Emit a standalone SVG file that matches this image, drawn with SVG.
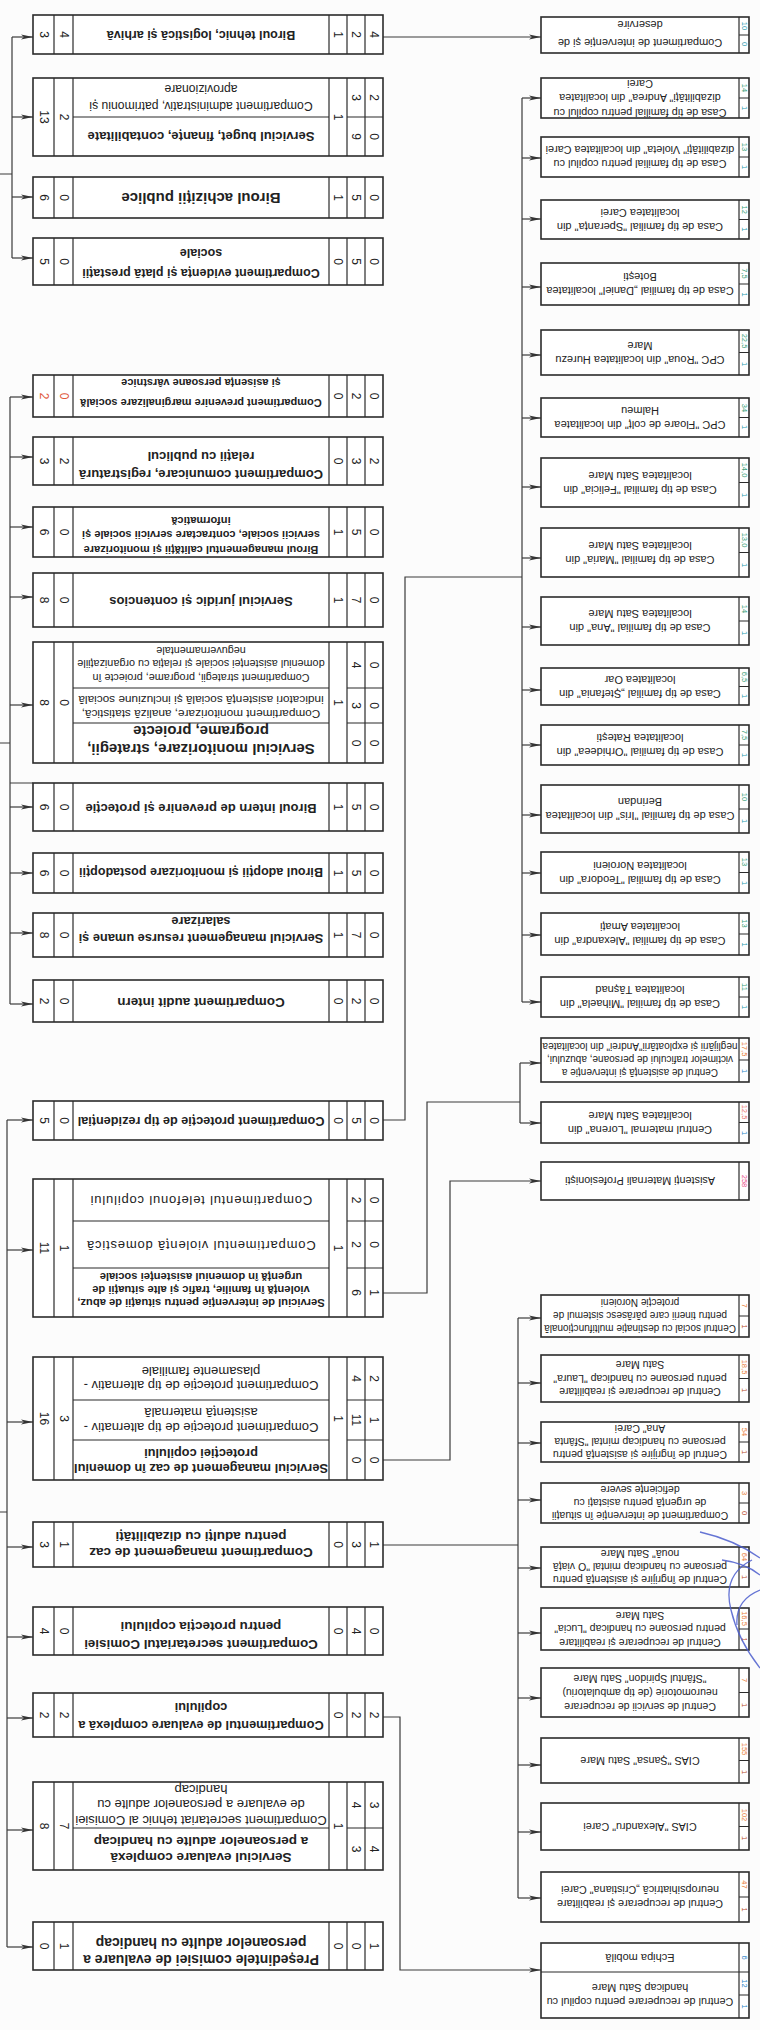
<svg xmlns="http://www.w3.org/2000/svg" width="760" height="2030" viewBox="0 0 760 2030">
<defs>
<style>
.bx{fill:#fff;stroke:#2b2b2b;stroke-width:1.6}
.ln{fill:none;stroke:#2b2b2b;stroke-width:1.2}
.cn{fill:none;stroke:#3a3a3a;stroke-width:1.2}
.ar{fill:none;stroke:#3a3a3a;stroke-width:1.2;marker-end:url(#ah)}
.sc{fill:none;stroke:#4a5ccc;stroke-width:1.3;opacity:.85}
text,tspan{font-family:"Liberation Sans",Arial,sans-serif;text-anchor:middle;dominant-baseline:central}
text{fill:#222}
.b{font-weight:bold}
.n{font-size:12px}
.m{font-size:7.5px}
.blu{fill:#2c86c8}
.tea{fill:#2a9bb0}
.grn{fill:#3a9f7a}
.org{fill:#e8803a}
.sal{fill:#e8746a}
.brn{fill:#b84a2a}
.pnk{fill:#e8508a}
.red{fill:#e0583a}
</style>
<marker id="ah" viewBox="0 0 12 6" refX="12" refY="3" markerWidth="12" markerHeight="6" markerUnits="userSpaceOnUse" orient="auto"><path d="M0 0.6L12 3L0 5.4L3 3z" fill="#333"/></marker>
</defs>
<rect width="760" height="2030" fill="#fcfcfc"/>

<g id="connectors">
<path class="cn" d="M0 174H12M12 37V258"/>
<path class="ar" d="M12 37H33"/><path class="ar" d="M12 117H33"/><path class="ar" d="M12 197H33"/><path class="ar" d="M12 258H33"/>
<path class="cn" d="M0 743H10M10 397V1004M10 783H33"/>
<path class="ar" d="M10 397H33"/><path class="ar" d="M10 457H33"/><path class="ar" d="M10 527H33"/><path class="ar" d="M10 597H33"/><path class="ar" d="M10 705H33"/><path class="ar" d="M10 807H33"/><path class="ar" d="M10 873H33"/><path class="ar" d="M10 933H33"/><path class="ar" d="M10 1004H33"/>
<path class="cn" d="M0 1512H7M7 1120V1947"/>
<path class="ar" d="M7 1120H33"/><path class="ar" d="M7 1250H33"/><path class="ar" d="M7 1422H33"/><path class="ar" d="M7 1547H33"/><path class="ar" d="M7 1637H33"/><path class="ar" d="M7 1718H33"/><path class="ar" d="M7 1830H33"/><path class="ar" d="M7 1947H33"/>
<path class="ar" d="M383 37H541"/>
<path class="cn" d="M383 1120H405V577H522M522 98V1002"/>
<path class="ar" d="M522 98H541"/><path class="ar" d="M522 158H541"/><path class="ar" d="M522 219H541"/><path class="ar" d="M522 287H541"/><path class="ar" d="M522 355H541"/><path class="ar" d="M522 418H541"/><path class="ar" d="M522 487H541"/><path class="ar" d="M522 558H541"/><path class="ar" d="M522 627H541"/><path class="ar" d="M522 690H541"/><path class="ar" d="M522 745H541"/><path class="ar" d="M522 815H541"/><path class="ar" d="M522 873H541"/><path class="ar" d="M522 935H541"/><path class="ar" d="M522 1002H541"/>
<path class="cn" d="M383 1293H427V1102H520M520 1063V1123"/>
<path class="ar" d="M520 1063H541"/><path class="ar" d="M520 1123H541"/>
<path class="ar" d="M383 1460H450V1181H541"/>
<path class="cn" d="M383 1545H518M518 1318V1898"/>
<path class="ar" d="M518 1318H541"/><path class="ar" d="M518 1383H541"/><path class="ar" d="M518 1443H541"/><path class="ar" d="M518 1500H541"/><path class="ar" d="M518 1568H541"/><path class="ar" d="M518 1633H541"/><path class="ar" d="M518 1698H541"/><path class="ar" d="M518 1765H541"/><path class="ar" d="M518 1832H541"/><path class="ar" d="M518 1898H541"/>
<path class="ar" d="M383 1717H400V1970H541"/>
</g>

<!-- Left column -->
<g id="biroul-tehnic">
<rect class="bx" x="33" y="15" width="350" height="39"/>
<path class="ln" d="M54 15V54M73 15V54M329 15V54M347 15V54M365 15V54"/>
<text class="n" transform="translate(43.5 34.5) rotate(90)">3</text>
<text class="n" transform="translate(63.5 34.5) rotate(90)">4</text>
<text class="b" font-size="12.5" transform="translate(201 34.5) rotate(180)">Biroul tehnic, logistică și arhivă</text>
<text class="n" transform="translate(338 34.5) rotate(90)">1</text>
<text class="n" transform="translate(356 34.5) rotate(90)">2</text>
<text class="n" transform="translate(374 34.5) rotate(90)">4</text>
</g>
<g id="serviciul-buget">
<rect class="bx" x="33" y="78" width="350" height="78"/>
<path class="ln" d="M54 78V156M73 78V156M329 78V156M347 78V156M365 78V156M73 117H329M347 117H383"/>
<text class="n" transform="translate(43.5 117) rotate(90)">13</text>
<text class="n" transform="translate(63.5 117) rotate(90)">2</text>
<text font-size="12.2" transform="translate(201 97) rotate(180)"><tspan x="0" y="-8.5">Compartiment  administrativ, patrimoniu și</tspan><tspan x="0" y="8.5">aprovizionare</tspan></text>
<text class="b" font-size="13" transform="translate(201 136.5) rotate(180)">Serviciul buget, finanțe, contabilitate</text>
<text class="n" transform="translate(338 117) rotate(90)">1</text>
<text class="n" transform="translate(356 97.5) rotate(90)">3</text>
<text class="n" transform="translate(374 97.5) rotate(90)">2</text>
<text class="n" transform="translate(356 136.5) rotate(90)">9</text>
<text class="n" transform="translate(374 136.5) rotate(90)">0</text>
</g>
<g id="biroul-achizitii">
<rect class="bx" x="33" y="177" width="350" height="41"/>
<path class="ln" d="M54 177V218M73 177V218M329 177V218M347 177V218M365 177V218"/>
<text class="n" transform="translate(43.5 197.5) rotate(90)">6</text>
<text class="n" transform="translate(63.5 197.5) rotate(90)">0</text>
<text class="b" font-size="15" transform="translate(201 198) rotate(180)">Biroul achiziții publice</text>
<text class="n" transform="translate(338 197.5) rotate(90)">1</text>
<text class="n" transform="translate(356 197.5) rotate(90)">5</text>
<text class="n" transform="translate(374 197.5) rotate(90)">0</text>
</g>
<g id="compartiment-evidenta">
<rect class="bx" x="33" y="238" width="350" height="47"/>
<path class="ln" d="M54 238V285M73 238V285M329 238V285M347 238V285M365 238V285"/>
<text class="n" transform="translate(43.5 261.5) rotate(90)">5</text>
<text class="n" transform="translate(63.5 261.5) rotate(90)">0</text>
<text class="b" font-size="12.5" transform="translate(201 263) rotate(180)"><tspan x="0" y="-10">Compartiment evidența  și plată prestații</tspan><tspan x="0" y="10">sociale</tspan></text>
<text class="n" transform="translate(338 261.5) rotate(90)">0</text>
<text class="n" transform="translate(356 261.5) rotate(90)">5</text>
<text class="n" transform="translate(374 261.5) rotate(90)">0</text>
</g>

<g id="compartiment-prevenire">
<rect class="bx" x="33" y="375" width="350" height="42"/>
<path class="ln" d="M54 375V417M73 375V417M329 375V417M347 375V417M365 375V417"/>
<text class="n red" transform="translate(43.5 396) rotate(90)">2</text>
<text class="n red" transform="translate(63.5 396) rotate(90)">0</text>
<text class="b" font-size="11" transform="translate(201 393) rotate(180)"><tspan x="0" y="-10">Compartiment prevenire marginalizare socială</tspan><tspan x="0" y="10">și asisența persoane vârstnice</tspan></text>
<text class="n" transform="translate(338 396) rotate(90)">0</text>
<text class="n" transform="translate(356 396) rotate(90)">2</text>
<text class="n" transform="translate(374 396) rotate(90)">0</text>
</g>
<g id="compartiment-comunicare">
<rect class="bx" x="33" y="437" width="350" height="48"/>
<path class="ln" d="M54 437V485M73 437V485M329 437V485M347 437V485M365 437V485"/>
<text class="n" transform="translate(43.5 461) rotate(90)">3</text>
<text class="n" transform="translate(63.5 461) rotate(90)">2</text>
<text class="b" font-size="13" transform="translate(201 466) rotate(180)"><tspan x="0" y="-9">Compartiment comunicare, registratură</tspan><tspan x="0" y="9">relații cu publicul</tspan></text>
<text class="n" transform="translate(338 461) rotate(90)">0</text>
<text class="n" transform="translate(356 461) rotate(90)">3</text>
<text class="n" transform="translate(374 461) rotate(90)">2</text>
</g>
<g id="biroul-calitate">
<rect class="bx" x="33" y="507" width="350" height="50"/>
<path class="ln" d="M54 507V557M73 507V557M329 507V557M347 507V557M365 507V557"/>
<text class="n" transform="translate(43.5 532) rotate(90)">6</text>
<text class="n" transform="translate(63.5 532) rotate(90)">0</text>
<text class="b" font-size="11" transform="translate(201 535) rotate(180)"><tspan x="0" y="-14.5">Biroul managementul calității și monitorizare</tspan><tspan x="0" y="0">servicii sociale, contractare servicii sociale și</tspan><tspan x="0" y="14.5">informatică</tspan></text>
<text class="n" transform="translate(338 532) rotate(90)">1</text>
<text class="n" transform="translate(356 532) rotate(90)">5</text>
<text class="n" transform="translate(374 532) rotate(90)">0</text>
</g>
<g id="serviciul-juridic">
<rect class="bx" x="33" y="573" width="350" height="54"/>
<path class="ln" d="M54 573V627M73 573V627M329 573V627M347 573V627M365 573V627"/>
<text class="n" transform="translate(43.5 600) rotate(90)">8</text>
<text class="n" transform="translate(63.5 600) rotate(90)">0</text>
<text class="b" font-size="13" transform="translate(201 601) rotate(180)">Serviciul juridic și contencios</text>
<text class="n" transform="translate(338 600) rotate(90)">1</text>
<text class="n" transform="translate(356 600) rotate(90)">7</text>
<text class="n" transform="translate(374 600) rotate(90)">0</text>
</g>
<g id="serviciul-monitorizare">
<rect class="bx" x="33" y="642" width="350" height="121"/>
<path class="ln" d="M54 642V763M73 642V763M329 642V763M347 642V763M365 642V763M73 688H329M347 688H383M73 723H329M347 723H383"/>
<text class="n" transform="translate(43.5 702.5) rotate(90)">8</text>
<text class="n" transform="translate(63.5 702.5) rotate(90)">0</text>
<text font-size="10.8" transform="translate(201 664) rotate(180)"><tspan x="0" y="-13.5">Compartiment strategii, programe, proiecte în</tspan><tspan x="0" y="0">domeniul asistenței sociale și relația cu organizațiile</tspan><tspan x="0" y="13.5">neguvernamentale</tspan></text>
<text font-size="11.8" transform="translate(201 706.5) rotate(180)"><tspan x="0" y="-7">Compartiment monitorizare, analiză statistică,</tspan><tspan x="0" y="7">indicatori asistență socială și incluziune socială</tspan></text>
<text class="b" font-size="15" transform="translate(201 741) rotate(180)"><tspan x="0" y="-9">Serviciul monitorizare, strategii,</tspan><tspan x="0" y="9">programe, proiecte</tspan></text>
<text class="n" transform="translate(338 702.5) rotate(90)">1</text>
<text class="n" transform="translate(356 665) rotate(90)">4</text>
<text class="n" transform="translate(374 665) rotate(90)">0</text>
<text class="n" transform="translate(356 705.5) rotate(90)">3</text>
<text class="n" transform="translate(374 705.5) rotate(90)">0</text>
<text class="n" transform="translate(356 743) rotate(90)">0</text>
<text class="n" transform="translate(374 743) rotate(90)">0</text>
</g>
<g id="biroul-intern">
<rect class="bx" x="33" y="783" width="350" height="48"/>
<path class="ln" d="M54 783V831M73 783V831M329 783V831M347 783V831M365 783V831"/>
<text class="n" transform="translate(43.5 807) rotate(90)">6</text>
<text class="n" transform="translate(63.5 807) rotate(90)">0</text>
<text class="b" font-size="13" transform="translate(201 808) rotate(180)">Biroul intern de prevenire și protecție</text>
<text class="n" transform="translate(338 807) rotate(90)">1</text>
<text class="n" transform="translate(356 807) rotate(90)">5</text>
<text class="n" transform="translate(374 807) rotate(90)">0</text>
</g>
<g id="biroul-adoptii">
<rect class="bx" x="33" y="853" width="350" height="40"/>
<path class="ln" d="M54 853V893M73 853V893M329 853V893M347 853V893M365 853V893"/>
<text class="n" transform="translate(43.5 873) rotate(90)">6</text>
<text class="n" transform="translate(63.5 873) rotate(90)">0</text>
<text class="b" font-size="12.5" transform="translate(201 872) rotate(180)">Biroul adopții și monitorizare postadopții</text>
<text class="n" transform="translate(338 873) rotate(90)">1</text>
<text class="n" transform="translate(356 873) rotate(90)">5</text>
<text class="n" transform="translate(374 873) rotate(90)">0</text>
</g>
<g id="serviciul-resurse-umane">
<rect class="bx" x="33" y="913" width="350" height="44"/>
<path class="ln" d="M54 913V957M73 913V957M329 913V957M347 913V957M365 913V957"/>
<text class="n" transform="translate(43.5 935) rotate(90)">8</text>
<text class="n" transform="translate(63.5 935) rotate(90)">0</text>
<text class="b" font-size="12.8" transform="translate(201 930.5) rotate(180)"><tspan x="0" y="-8.8">Serviciul management resurse umane și</tspan><tspan x="0" y="8.8">salarizare</tspan></text>
<text class="n" transform="translate(338 935) rotate(90)">1</text>
<text class="n" transform="translate(356 935) rotate(90)">7</text>
<text class="n" transform="translate(374 935) rotate(90)">0</text>
</g>
<g id="compartiment-audit">
<rect class="bx" x="33" y="980" width="350" height="42"/>
<path class="ln" d="M54 980V1022M73 980V1022M329 980V1022M347 980V1022M365 980V1022"/>
<text class="n" transform="translate(43.5 1001) rotate(90)">2</text>
<text class="n" transform="translate(63.5 1001) rotate(90)">0</text>
<text class="b" font-size="13.4" transform="translate(201 1002) rotate(180)">Compartiment audit intern</text>
<text class="n" transform="translate(338 1001) rotate(90)">0</text>
<text class="n" transform="translate(356 1001) rotate(90)">2</text>
<text class="n" transform="translate(374 1001) rotate(90)">0</text>
</g>

<g id="compartiment-rezidential">
<rect class="bx" x="33" y="1101" width="350" height="39"/>
<path class="ln" d="M54 1101V1140M73 1101V1140M329 1101V1140M347 1101V1140M365 1101V1140"/>
<text class="n" transform="translate(43.5 1120.5) rotate(90)">5</text>
<text class="n" transform="translate(63.5 1120.5) rotate(90)">0</text>
<text class="b" font-size="12.7" transform="translate(201 1120.5) rotate(180)">Compartiment protecție de tip rezidențial</text>
<text class="n" transform="translate(338 1120.5) rotate(90)">0</text>
<text class="n" transform="translate(356 1120.5) rotate(90)">5</text>
<text class="n" transform="translate(374 1120.5) rotate(90)">0</text>
</g>
<g id="serviciul-interventie">
<rect class="bx" x="33" y="1179" width="350" height="138"/>
<path class="ln" d="M54 1179V1317M73 1179V1317M329 1179V1317M347 1179V1317M365 1179V1317M73 1221H329M347 1221H383M73 1268H329M347 1268H383"/>
<text class="n" transform="translate(43.5 1248) rotate(90)">11</text>
<text class="n" transform="translate(63.5 1248) rotate(90)">1</text>
<text font-size="13" letter-spacing="0.8" transform="translate(201 1200) rotate(180)">Compartimentul telefonul copilului</text>
<text font-size="13" letter-spacing="0.8" transform="translate(201 1245) rotate(180)">Compartimentul violență domestică</text>
<text class="b" font-size="11.2" transform="translate(201 1290) rotate(180)"><tspan x="0" y="-13.3">Serviciul de intervenție pentru situații de abuz,</tspan><tspan x="0" y="0">violență în familie, trafic și alte situații de</tspan><tspan x="0" y="13.3">urgență în domeniul asistenței sociale</tspan></text>
<text class="n" transform="translate(338 1248) rotate(90)">1</text>
<text class="n" transform="translate(356 1200) rotate(90)">2</text>
<text class="n" transform="translate(374 1200) rotate(90)">0</text>
<text class="n" transform="translate(356 1244.5) rotate(90)">2</text>
<text class="n" transform="translate(374 1244.5) rotate(90)">0</text>
<text class="n" transform="translate(356 1292.5) rotate(90)">6</text>
<text class="n" transform="translate(374 1292.5) rotate(90)">1</text>
</g>
<g id="serviciul-management-caz">
<rect class="bx" x="33" y="1357" width="350" height="123"/>
<path class="ln" d="M54 1357V1480M73 1357V1480M329 1357V1480M347 1357V1480M365 1357V1480M73 1400H329M347 1400H383M73 1440H329M347 1440H383"/>
<text class="n" transform="translate(43.5 1418.5) rotate(90)">16</text>
<text class="n" transform="translate(63.5 1418.5) rotate(90)">3</text>
<text font-size="13" transform="translate(201 1378.5) rotate(180)"><tspan x="0" y="-7">Compartiment protecție de tip alternativ -</tspan><tspan x="0" y="7">plasamente familiale</tspan></text>
<text font-size="13" transform="translate(201 1420.5) rotate(180)"><tspan x="0" y="-7.5">Compartiment protecție de tip alternativ -</tspan><tspan x="0" y="7.5">asistență maternală</tspan></text>
<text class="b" font-size="12.8" transform="translate(201 1461) rotate(180)"><tspan x="0" y="-7.5">Serviciul management de caz în domeniul</tspan><tspan x="0" y="7.5">protecției copilului</tspan></text>
<text class="n" transform="translate(338 1418.5) rotate(90)">1</text>
<text class="n" transform="translate(356 1378.5) rotate(90)">4</text>
<text class="n" transform="translate(374 1378.5) rotate(90)">2</text>
<text class="n" transform="translate(356 1420) rotate(90)">11</text>
<text class="n" transform="translate(374 1420) rotate(90)">1</text>
<text class="n" transform="translate(356 1460) rotate(90)">0</text>
<text class="n" transform="translate(374 1460) rotate(90)">0</text>
</g>
<g id="compartiment-management-caz-adulti">
<rect class="bx" x="33" y="1522" width="350" height="45"/>
<path class="ln" d="M54 1522V1567M73 1522V1567M329 1522V1567M347 1522V1567M365 1522V1567"/>
<text class="n" transform="translate(43.5 1544.5) rotate(90)">3</text>
<text class="n" transform="translate(63.5 1544.5) rotate(90)">1</text>
<text class="b" font-size="13.5" transform="translate(201 1545) rotate(180)"><tspan x="0" y="-8.3">Compartiment management de caz</tspan><tspan x="0" y="8.3">pentru adulți cu dizabilități</tspan></text>
<text class="n" transform="translate(338 1544.5) rotate(90)">0</text>
<text class="n" transform="translate(356 1544.5) rotate(90)">3</text>
<text class="n" transform="translate(374 1544.5) rotate(90)">1</text>
</g>
<g id="compartiment-secretariat-comisie">
<rect class="bx" x="33" y="1607" width="350" height="48"/>
<path class="ln" d="M54 1607V1655M73 1607V1655M329 1607V1655M347 1607V1655M365 1607V1655"/>
<text class="n" transform="translate(43.5 1631) rotate(90)">4</text>
<text class="n" transform="translate(63.5 1631) rotate(90)">0</text>
<text class="b" font-size="13.4" transform="translate(201 1636) rotate(180)"><tspan x="0" y="-9">Compartiment  secretariatul Comisiei</tspan><tspan x="0" y="9">pentru protecția copilului</tspan></text>
<text class="n" transform="translate(338 1631) rotate(90)">0</text>
<text class="n" transform="translate(356 1631) rotate(90)">4</text>
<text class="n" transform="translate(374 1631) rotate(90)">0</text>
</g>
<g id="compartiment-evaluare-copil">
<rect class="bx" x="33" y="1693" width="350" height="44"/>
<path class="ln" d="M54 1693V1737M73 1693V1737M329 1693V1737M347 1693V1737M365 1693V1737"/>
<text class="n" transform="translate(43.5 1715) rotate(90)">2</text>
<text class="n" transform="translate(63.5 1715) rotate(90)">2</text>
<text class="b" font-size="12.8" transform="translate(201 1717) rotate(180)"><tspan x="0" y="-9.3">Compartimentul  de evaluare complexă a</tspan><tspan x="0" y="9.3">copilului</tspan></text>
<text class="n" transform="translate(338 1715) rotate(90)">0</text>
<text class="n" transform="translate(356 1715) rotate(90)">2</text>
<text class="n" transform="translate(374 1715) rotate(90)">2</text>
</g>
<g id="serviciul-evaluare-adulti">
<rect class="bx" x="33" y="1782" width="350" height="88"/>
<path class="ln" d="M54 1782V1870M73 1782V1870M329 1782V1870M347 1782V1870M365 1782V1870M73 1828H329M347 1828H383"/>
<text class="n" transform="translate(43.5 1826) rotate(90)">8</text>
<text class="n" transform="translate(63.5 1826) rotate(90)">7</text>
<text font-size="13" transform="translate(201 1805) rotate(180)"><tspan x="0" y="-15.5">Compartiment secretariat tehnic al Comisiei</tspan><tspan x="0" y="0">de evaluare a persoanelor adulte cu</tspan><tspan x="0" y="15.5">handicap</tspan></text>
<text class="b" font-size="13.5" transform="translate(201 1850) rotate(180)"><tspan x="0" y="-8.3">Serviciul evaluare complexă</tspan><tspan x="0" y="8.3">a persoanelor adulte cu handicap</tspan></text>
<text class="n" transform="translate(338 1826) rotate(90)">1</text>
<text class="n" transform="translate(356 1805) rotate(90)">4</text>
<text class="n" transform="translate(374 1805) rotate(90)">3</text>
<text class="n" transform="translate(356 1849) rotate(90)">3</text>
<text class="n" transform="translate(374 1849) rotate(90)">4</text>
</g>
<g id="presedintele-comisiei">
<rect class="bx" x="33" y="1922" width="350" height="48"/>
<path class="ln" d="M54 1922V1970M73 1922V1970M329 1922V1970M347 1922V1970M365 1922V1970"/>
<text class="n" transform="translate(43.5 1946) rotate(90)">0</text>
<text class="n" transform="translate(63.5 1946) rotate(90)">1</text>
<text class="b" font-size="14" transform="translate(201 1951.5) rotate(180)"><tspan x="0" y="-8.3">Președintele comisiei de evaluare a</tspan><tspan x="0" y="8.3">persoanelor adulte cu handicap</tspan></text>
<text class="n" transform="translate(338 1946) rotate(90)">0</text>
<text class="n" transform="translate(356 1946) rotate(90)">0</text>
<text class="n" transform="translate(374 1946) rotate(90)">1</text>
</g>

<!-- Right column -->
<g id="compartiment-deservire">
<rect class="bx" x="541" y="17" width="208" height="36"/>
<path class="ln" d="M739 17V53M739 35H749"/>
<text class="m tea" transform="translate(744 26) rotate(90)">10</text>
<text class="m tea" transform="translate(744 44) rotate(90)">0</text>
<text font-size="11" transform="translate(640 34) rotate(180)"><tspan x="0" y="-9">Compartiment de intervenție și de</tspan><tspan x="0" y="9">deservire</tspan></text>
</g>
<g id="casa-andrea">
<rect class="bx" x="541" y="78" width="208" height="40"/>
<path class="ln" d="M739 78V118M739 98H749"/>
<text class="m grn" transform="translate(744 88) rotate(90)">14</text>
<text class="m tea" transform="translate(744 108) rotate(90)">1</text>
<text font-size="10.8" transform="translate(640 98) rotate(180)"><tspan x="0" y="-14.5">Casa de tip familial  pentru copilul cu</tspan><tspan x="0" y="0">dizabilități" Andrea" din localitatea</tspan><tspan x="0" y="14.5">Carei</tspan></text>
</g>
<g id="casa-violeta">
<rect class="bx" x="541" y="137" width="208" height="40"/>
<path class="ln" d="M739 137V177M739 157H749"/>
<text class="m grn" transform="translate(744 147) rotate(90)">13</text>
<text class="m tea" transform="translate(744 167) rotate(90)">1</text>
<text font-size="10.8" transform="translate(640 157) rotate(180)"><tspan x="0" y="-7">Casa de tip familial  pentru copilul cu</tspan><tspan x="0" y="7">dizabilități" Violeta" din localitatea Carei</tspan></text>
</g>
<g id="casa-speranta">
<rect class="bx" x="541" y="200" width="208" height="39"/>
<path class="ln" d="M739 200V239M739 219.5H749"/>
<text class="m grn" transform="translate(744 209.75) rotate(90)">12</text>
<text class="m tea" transform="translate(744 229.25) rotate(90)">1</text>
<text font-size="11" transform="translate(640 220) rotate(180)"><tspan x="0" y="-7">Casa de tip familial "Speranța"  din</tspan><tspan x="0" y="7">localitatea Carei</tspan></text>
</g>
<g id="casa-daniel">
<rect class="bx" x="541" y="263" width="208" height="42"/>
<path class="ln" d="M739 263V305M739 284H749"/>
<text class="m grn" transform="translate(744 273.5) rotate(90)">7,5</text>
<text class="m tea" transform="translate(744 294.5) rotate(90)">1</text>
<text font-size="11" transform="translate(640 284) rotate(180)"><tspan x="0" y="-7">Casa de tip familial „Daniel"  localitatea</tspan><tspan x="0" y="7">Botești</tspan></text>
</g>
<g id="cpc-roua">
<rect class="bx" x="541" y="330" width="208" height="45"/>
<path class="ln" d="M739 330V375M739 352.5H749"/>
<text class="m grn" transform="translate(744 341) rotate(90)">22,5</text>
<text class="m tea" transform="translate(744 364) rotate(90)">1</text>
<text font-size="11" transform="translate(640 352.5) rotate(180)"><tspan x="0" y="-7">CPC "Roua" din localitatea Hurezu</tspan><tspan x="0" y="7">Mare</tspan></text>
</g>
<g id="cpc-floare">
<rect class="bx" x="541" y="398" width="208" height="39"/>
<path class="ln" d="M739 398V437M739 417.5H749"/>
<text class="m grn" transform="translate(744 408) rotate(90)">34</text>
<text class="m tea" transform="translate(744 427) rotate(90)">1</text>
<text font-size="11" transform="translate(640 417.5) rotate(180)"><tspan x="0" y="-7">CPC "Floare de colț" din localitatea</tspan><tspan x="0" y="7">Halmeu</tspan></text>
</g>
<g id="casa-felicia">
<rect class="bx" x="541" y="458" width="208" height="49"/>
<path class="ln" d="M739 458V507M739 482.5H749"/>
<text class="m grn" transform="translate(744 470) rotate(90)">14,0</text>
<text class="m tea" transform="translate(744 495) rotate(90)">1</text>
<text font-size="11" transform="translate(640 482.5) rotate(180)"><tspan x="0" y="-7">Casa de tip familial  "Felicia" din</tspan><tspan x="0" y="7">localitatea Satu Mare</tspan></text>
</g>
<g id="casa-maria">
<rect class="bx" x="541" y="528" width="208" height="49"/>
<path class="ln" d="M739 528V577M739 552.5H749"/>
<text class="m grn" transform="translate(744 540) rotate(90)">13,0</text>
<text class="m tea" transform="translate(744 565) rotate(90)">1</text>
<text font-size="11" transform="translate(640 552.5) rotate(180)"><tspan x="0" y="-7">Casa de tip familial  "Maria" din</tspan><tspan x="0" y="7">localitatea Satu Mare</tspan></text>
</g>
<g id="casa-ana">
<rect class="bx" x="541" y="597" width="208" height="48"/>
<path class="ln" d="M739 597V645M739 621H749"/>
<text class="m grn" transform="translate(744 609) rotate(90)">14</text>
<text class="m tea" transform="translate(744 633) rotate(90)">1</text>
<text font-size="11" transform="translate(640 621) rotate(180)"><tspan x="0" y="-7">Casa de tip familial  "Ana" din</tspan><tspan x="0" y="7">localitatea Satu Mare</tspan></text>
</g>
<g id="casa-stefania">
<rect class="bx" x="541" y="668" width="208" height="37"/>
<path class="ln" d="M739 668V705M739 686.5H749"/>
<text class="m grn" transform="translate(744 677) rotate(90)">6,5</text>
<text class="m tea" transform="translate(744 696) rotate(90)">1</text>
<text font-size="11" transform="translate(640 686.5) rotate(180)"><tspan x="0" y="-7">Casa de tip familial  „Ștefania" din</tspan><tspan x="0" y="7">localitatea Oar</tspan></text>
</g>
<g id="casa-orhideea">
<rect class="bx" x="541" y="725" width="208" height="40"/>
<path class="ln" d="M739 725V765M739 745H749"/>
<text class="m grn" transform="translate(744 735) rotate(90)">7,5</text>
<text class="m tea" transform="translate(744 755) rotate(90)">1</text>
<text font-size="11" transform="translate(640 745) rotate(180)"><tspan x="0" y="-7">Casa de tip familial  "Orhideea" din</tspan><tspan x="0" y="7">localitatea Ratești</tspan></text>
</g>
<g id="casa-iris">
<rect class="bx" x="541" y="785" width="208" height="48"/>
<path class="ln" d="M739 785V833M739 809H749"/>
<text class="m grn" transform="translate(744 797) rotate(90)">10</text>
<text class="m tea" transform="translate(744 821) rotate(90)">1</text>
<text font-size="11" transform="translate(640 809) rotate(180)"><tspan x="0" y="-7">Casa de tip familial  "Iris" din localitatea</tspan><tspan x="0" y="7">Berindan</tspan></text>
</g>
<g id="casa-teodora">
<rect class="bx" x="541" y="852" width="208" height="41"/>
<path class="ln" d="M739 852V893M739 872.5H749"/>
<text class="m grn" transform="translate(744 862) rotate(90)">13</text>
<text class="m tea" transform="translate(744 883) rotate(90)">1</text>
<text font-size="11" transform="translate(640 872.5) rotate(180)"><tspan x="0" y="-7">Casa de tip familial  "Teodora" din</tspan><tspan x="0" y="7">localitatea Noroieni</tspan></text>
</g>
<g id="casa-alexandra">
<rect class="bx" x="541" y="913" width="208" height="42"/>
<path class="ln" d="M739 913V955M739 934H749"/>
<text class="m grn" transform="translate(744 923.5) rotate(90)">13</text>
<text class="m tea" transform="translate(744 944.5) rotate(90)">1</text>
<text font-size="11" transform="translate(640 934) rotate(180)"><tspan x="0" y="-7">Casa de tip familial  "Alexandra" din</tspan><tspan x="0" y="7">localitatea Amați</tspan></text>
</g>
<g id="casa-mihaela">
<rect class="bx" x="541" y="977" width="208" height="40"/>
<path class="ln" d="M739 977V1017M739 997H749"/>
<text class="m grn" transform="translate(744 987) rotate(90)">11</text>
<text class="m tea" transform="translate(744 1007) rotate(90)">1</text>
<text font-size="11" transform="translate(640 997) rotate(180)"><tspan x="0" y="-7">Casa de tip familial  "Mihaela" din</tspan><tspan x="0" y="7">localitatea Tășnad</tspan></text>
</g>
<g id="centrul-andrei">
<rect class="bx" x="541" y="1038" width="208" height="44"/>
<path class="ln" d="M739 1038V1082M739 1060H749"/>
<text class="m org" transform="translate(744 1049) rotate(90)">17,5</text>
<text class="m blu" transform="translate(744 1071) rotate(90)">1</text>
<text font-size="10" transform="translate(640 1060) rotate(180)"><tspan x="0" y="-13">Centrul de asistență și intervenție a</tspan><tspan x="0" y="0">victimelor traficului de persoane, abuzului,</tspan><tspan x="0" y="13">neglijării și exploatării"Andrei" din localitatea</tspan></text>
</g>
<g id="centrul-lorena">
<rect class="bx" x="541" y="1102" width="208" height="41"/>
<path class="ln" d="M739 1102V1143M739 1122.5H749"/>
<text class="m sal" transform="translate(744 1112) rotate(90)">12,5</text>
<text class="m blu" transform="translate(744 1133) rotate(90)">1</text>
<text font-size="11" transform="translate(640 1122.5) rotate(180)"><tspan x="0" y="-7">Centrul maternal "Lorena" din</tspan><tspan x="0" y="7">localitatea Satu Mare</tspan></text>
</g>
<g id="asistenti-maternali">
<rect class="bx" x="541" y="1162" width="208" height="38"/>
<path class="ln" d="M739 1162V1200"/>
<text class="m pnk" transform="translate(744 1181) rotate(90)">258</text>
<text font-size="10.8" transform="translate(640 1181) rotate(180)">Asistenți Maternali Profesioniști</text>
</g>
<g id="centrul-social-noroieni">
<rect class="bx" x="541" y="1295" width="208" height="42"/>
<path class="ln" d="M739 1295V1337M739 1316H749"/>
<text class="m org" transform="translate(744 1305.5) rotate(90)">7</text>
<text class="m brn" transform="translate(744 1326.5) rotate(90)">1</text>
<text font-size="10" transform="translate(640 1316) rotate(180)"><tspan x="0" y="-13">Centrul social cu destinație multifuncțională</tspan><tspan x="0" y="0">pentru tinerii care părăsesc sistemul de</tspan><tspan x="0" y="13">protecție Noroieni</tspan></text>
</g>
<g id="centrul-laura">
<rect class="bx" x="541" y="1355" width="208" height="47"/>
<path class="ln" d="M739 1355V1402M739 1378.5H749"/>
<text class="m org" transform="translate(744 1367) rotate(90)">18,5</text>
<text class="m brn" transform="translate(744 1390) rotate(90)">1</text>
<text font-size="10.5" transform="translate(640 1378.5) rotate(180)"><tspan x="0" y="-13.5">Centrul de recuperare și reabilitare</tspan><tspan x="0" y="0">pentru persoane cu handicap "Laura"</tspan><tspan x="0" y="13.5">Satu Mare</tspan></text>
</g>
<g id="centrul-sfanta-ana">
<rect class="bx" x="541" y="1422" width="208" height="40"/>
<path class="ln" d="M739 1422V1462M739 1442H749"/>
<text class="m org" transform="translate(744 1432) rotate(90)">54</text>
<text class="m brn" transform="translate(744 1452) rotate(90)">1</text>
<text font-size="10.5" transform="translate(640 1442) rotate(180)"><tspan x="0" y="-13">Centrul de îngrijire și asistență pentru</tspan><tspan x="0" y="0">persoane cu handicap mintal "Sfânta</tspan><tspan x="0" y="13">Ana" Carei</tspan></text>
</g>
<g id="compartiment-urgenta">
<rect class="bx" x="541" y="1483" width="208" height="40"/>
<path class="ln" d="M739 1483V1523M739 1503H749"/>
<text class="m org" transform="translate(744 1493) rotate(90)">3</text>
<text class="m brn" transform="translate(744 1513) rotate(90)">0</text>
<text font-size="10.5" transform="translate(640 1503) rotate(180)"><tspan x="0" y="-13">Compartiment de intervenție în situații</tspan><tspan x="0" y="0">de urgență pentru asistați cu</tspan><tspan x="0" y="13">deficiențe severe</tspan></text>
</g>
<g id="centrul-o-viata-noua">
<rect class="bx" x="541" y="1547" width="208" height="40"/>
<path class="ln" d="M739 1547V1587M739 1567H749"/>
<text class="m org" transform="translate(744 1557) rotate(90)">64</text>
<text class="m brn" transform="translate(744 1577) rotate(90)">1</text>
<text font-size="10.5" transform="translate(640 1567) rotate(180)"><tspan x="0" y="-13">Centrul de îngrijire și asistență pentru</tspan><tspan x="0" y="0">persoane cu handicap mintal "O viață</tspan><tspan x="0" y="13">nouă" Satu Mare</tspan></text>
</g>
<g id="centrul-lucia">
<rect class="bx" x="541" y="1608" width="208" height="42"/>
<path class="ln" d="M739 1608V1650M739 1629H749"/>
<text class="m org" transform="translate(744 1618.5) rotate(90)">16,5</text>
<text class="m brn" transform="translate(744 1639.5) rotate(90)">1</text>
<text font-size="10.5" transform="translate(640 1629) rotate(180)"><tspan x="0" y="-13.5">Centrul de recuperare și reabilitare</tspan><tspan x="0" y="0">pentru persoane cu handicap "Lucia"</tspan><tspan x="0" y="13.5">Satu Mare</tspan></text>
</g>
<g id="centrul-spiridon">
<rect class="bx" x="541" y="1668" width="208" height="49"/>
<path class="ln" d="M739 1668V1717M739 1692.5H749"/>
<text class="m org" transform="translate(744 1680) rotate(90)">7</text>
<text class="m brn" transform="translate(744 1705) rotate(90)">1</text>
<text font-size="10.5" transform="translate(640 1692.5) rotate(180)"><tspan x="0" y="-14">Centrul de servicii de recuperare</tspan><tspan x="0" y="0">neuromotorie (de tip ambulatoriu)</tspan><tspan x="0" y="14">"Sfântul Spiridon" Satu Mare</tspan></text>
</g>
<g id="cias-sansa">
<rect class="bx" x="541" y="1738" width="208" height="45"/>
<path class="ln" d="M739 1738V1783M739 1760.5H749"/>
<text class="m org" transform="translate(744 1749) rotate(90)">155</text>
<text class="m brn" transform="translate(744 1772) rotate(90)">1</text>
<text font-size="10.8" transform="translate(640 1760.5) rotate(180)">CIAS "Șansa" Satu Mare</text>
</g>
<g id="cias-alexandru">
<rect class="bx" x="541" y="1803" width="208" height="47"/>
<path class="ln" d="M739 1803V1850M739 1826.5H749"/>
<text class="m org" transform="translate(744 1815) rotate(90)">102</text>
<text class="m brn" transform="translate(744 1838) rotate(90)">1</text>
<text font-size="10.8" transform="translate(640 1826.5) rotate(180)">CIAS "Alexandru" Carei</text>
</g>
<g id="centrul-cristiana">
<rect class="bx" x="541" y="1872" width="208" height="50"/>
<path class="ln" d="M739 1872V1922M739 1897H749"/>
<text class="m org" transform="translate(744 1884.5) rotate(90)">47</text>
<text class="m brn" transform="translate(744 1909.5) rotate(90)">1</text>
<text font-size="10.8" transform="translate(640 1897) rotate(180)"><tspan x="0" y="-7">Centrul de recuperare și reabilitare</tspan><tspan x="0" y="7">neuropsihiatrică „Cristiana" Carei</tspan></text>
</g>
<g id="centrul-copil-handicap">
<rect class="bx" x="541" y="1943" width="208" height="75"/>
<path class="ln" d="M739 1943V2018M541 1972H749M739 1995H749"/>
<text class="m blu" transform="translate(744 1957.5) rotate(90)">6</text>
<text class="m blu" transform="translate(744 1983.5) rotate(90)">12</text>
<text class="m blu" transform="translate(744 2006.5) rotate(90)">1</text>
<text font-size="11" transform="translate(640 1957.5) rotate(180)">Echipa mobilă</text>
<text font-size="10.8" transform="translate(640 1995) rotate(180)"><tspan x="0" y="-7">Centrul de recuperare pentru copilul cu</tspan><tspan x="0" y="7">handicap Satu Mare</tspan></text>
</g>

<g id="pen-marks">
<path class="sc" d="M700 1532Q735 1540 760 1558"/>
<path class="sc" d="M722 1560Q745 1563 760 1575"/>
<path class="sc" d="M752 1560Q722 1575 731 1610Q738 1640 760 1668"/>
<path class="sc" d="M760 1590Q735 1600 737 1625"/>
</g>
</svg>
